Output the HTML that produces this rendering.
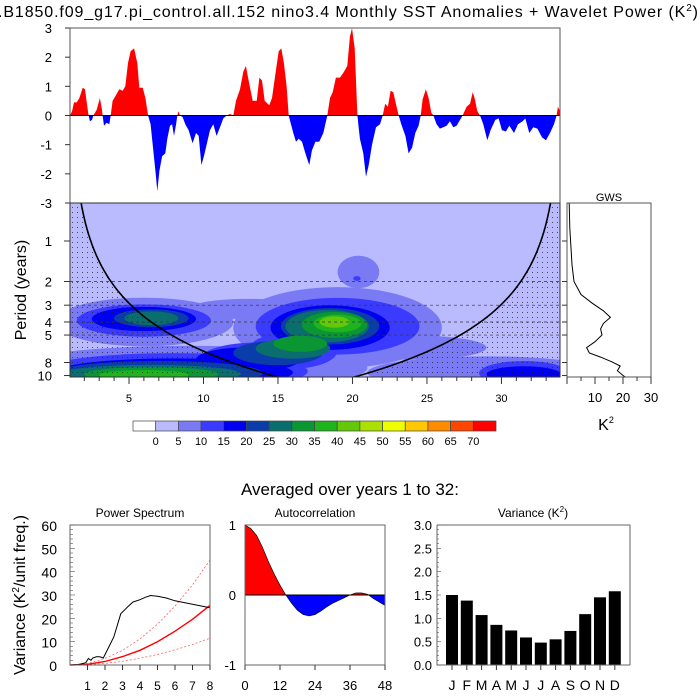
<!DOCTYPE html>
<html><head><meta charset="utf-8"><style>
html,body{margin:0;padding:0;background:#fff;}
svg{display:block;font-family:"Liberation Sans",sans-serif;}
</style></head><body>
<svg id="chart" width="700" height="700" viewBox="0 0 700 700">
<defs>
<pattern id="dots" width="5" height="5" patternUnits="userSpaceOnUse"><circle cx="2.5" cy="2.5" r="0.5" fill="#222"/></pattern>
<clipPath id="tsUp"><rect x="70" y="28" width="490" height="87.5"/></clipPath>
<clipPath id="tsDn"><rect x="70" y="115.5" width="490" height="87.5"/></clipPath>
<clipPath id="wvClip"><rect x="70" y="203" width="490" height="174"/></clipPath>
<clipPath id="acUp"><rect x="245" y="525" width="140" height="70"/></clipPath>
<clipPath id="acDn"><rect x="245" y="595" width="140" height="70"/></clipPath>
</defs>
<text x="698" y="17" text-anchor="end" font-size="16" textLength="700">.B1850.f09_g17.pi_control.all.152 nino3.4 Monthly SST Anomalies + Wavelet Power (K<tspan font-size="10" dy="-6">2</tspan><tspan dy="6">)</tspan></text>
<text transform="translate(26,290) rotate(-90)" text-anchor="middle" font-size="16">Period (years)</text>
<text x="350" y="495" text-anchor="middle" font-size="17">Averaged over years 1 to 32:</text>
<text transform="translate(25,595) rotate(-90)" text-anchor="middle" font-size="16">Variance (K<tspan font-size="10" dy="-6">2</tspan><tspan dy="6">/unit freq.)</tspan></text>
<text x="140" y="517" text-anchor="middle" font-size="12">Power Spectrum</text>
<text x="315" y="517" text-anchor="middle" font-size="12">Autocorrelation</text>
<text x="533" y="517" text-anchor="middle" font-size="12">Variance (K<tspan font-size="8" dy="-5">2</tspan><tspan dy="5">)</tspan></text>
<text x="609" y="201" text-anchor="middle" font-size="11">GWS</text>
<text x="606" y="430" text-anchor="middle" font-size="16">K<tspan font-size="9" dy="-7">2</tspan></text>
</svg>
<script>
// ---------- data ----------
const tsYears=[1.04,1.18,1.31,1.49,1.67,1.89,2.05,2.20,2.29,2.38,2.52,2.61,2.83,3.05,3.19,3.23,3.32,3.50,3.68,3.77,3.90,4.13,4.35,4.58,4.75,4.93,5.11,5.34,5.56,5.69,5.92,6.10,6.28,6.45,6.63,6.81,6.90,7.04,7.22,7.44,7.57,7.75,7.89,8.02,8.16,8.24,8.33,8.42,8.60,8.78,9.00,9.27,9.50,9.68,9.86,10.03,10.21,10.44,10.66,10.88,11.11,11.33,11.56,11.78,12.00,12.18,12.45,12.67,12.85,13.03,13.30,13.57,13.75,13.93,14.11,14.42,14.60,14.82,15.05,15.22,15.40,15.58,15.72,15.85,16.03,16.21,16.39,16.61,16.84,17.10,17.28,17.51,17.77,18.04,18.22,18.31,18.49,18.67,18.89,19.16,19.43,19.65,19.83,19.97,20.15,20.33,20.50,20.73,20.91,21.09,21.31,21.58,21.85,22.03,22.20,22.38,22.56,22.74,22.96,23.10,23.28,23.55,23.77,24.00,24.22,24.44,24.58,24.71,24.93,25.11,25.29,25.43,25.65,25.87,26.10,26.32,26.54,26.77,26.99,27.22,27.39,27.66,27.89,28.07,28.20,28.38,28.56,28.78,29.05,29.27,29.59,29.81,30.03,30.30,30.53,30.84,31.11,31.42,31.60,31.87,32.14,32.41,32.72,32.99,33.26,33.53,33.70,33.79,33.93];
const tsValues=[0,0.15,0.45,0.45,0.6,0.95,0.9,0.3,0,-0.2,-0.15,0,0.2,0.6,0.2,0,-0.35,-0.25,-0.3,0,0.5,0.7,0.9,0.85,1.0,1.8,2.2,2.3,1.8,0.95,0.95,0.6,0,-0.3,-1.2,-2.1,-2.6,-1.9,-1.4,-1.3,-0.8,-0.35,-0.3,-0.7,-0.3,0,0.15,0,-0.05,-0.3,-0.5,-0.95,-0.6,-0.7,-1.7,-1.4,-1.0,-0.5,-0.3,-0.7,-0.4,-0.1,0,0.05,0,0.5,0.9,1.5,1.7,1.2,0.5,0.5,1.3,1.2,0.5,0.35,0.6,1.4,2.2,2.3,1.8,1.0,0,-0.25,-0.6,-0.9,-0.8,-0.9,-1.3,-1.7,-1.2,-0.9,-0.9,-0.6,-0.2,0,0.6,0.8,1.3,1.3,1.5,1.7,2.7,3.0,2.3,0,-0.8,-1.3,-2.1,-1.7,-1.0,-0.4,-0.3,0,0.4,0.3,0.85,0.8,0.3,0,-0.3,-0.7,-1.3,-1.1,-0.6,-0.35,0,0.55,0.9,0.6,0.1,0,-0.3,-0.45,-0.4,-0.35,-0.2,-0.4,-0.35,-0.15,0,0.3,0.4,0.8,0.6,0.15,0,-0.3,-0.85,-0.5,-0.15,-0.1,-0.5,-0.55,-0.35,-0.6,-0.3,-0.2,-0.1,-0.6,-0.4,-0.45,-0.75,-0.85,-0.6,-0.3,0,0.3,0.15];
const tsTicks=[3,2,1,0,-1,-2];
const levelColors=["#ffffff","#babaff","#7a7af5","#3b3bff","#0000f0","#0a3caa","#0a6e6e","#0a9632","#1eb41e","#64c80a","#aae100","#eeff00","#ffc800","#ff8c00","#ff4600","#ff0000"];
const levelLabels=[0,5,10,15,20,25,30,35,40,45,50,55,60,65,70];
const blobYear=  [6,19,20.4,13,9,29,24, 12,19.5,25.3, 6,19,8,31.5,14,16, 6,18.5,8,31.5,13, 6.5,18.5,7,15, 6.5,18.3,6.5,16, 18.8,6.5,16.5, 19,6, 18.8, 20.3];
const blobPeriod=[4,4.4,1.7,3.2,8.8,9.5,6.2, 4.0,9.8,4.3, 3.9,4.3,9.3,9.6,7.2,6.5, 3.8,4.4,9.5,9.8,7.6, 3.75,4.3,9.6,6.8, 3.75,4.3,9.7,6.3, 4.2,9.8,5.8, 4.1,9.9, 4.0, 1.9];
const blobRxYears=[6,7,1.4,4,12,8,5, 1.8,1.8,1.2, 4.5,5.5,9,3,4,3, 3.5,4,8,2.5,3.5, 2.5,3.3,7,3, 1.8,2.8,6,2.5, 2.2,4.5,1.8, 1.6,3, 1.0, 0.25];
const blobRyOct=  [0.6,1.0,0.4,0.25,0.55,0.4,0.3, 0.13,0.12,0.35, 0.4,0.7,0.45,0.3,0.35,0.45, 0.3,0.55,0.35,0.2,0.3, 0.22,0.45,0.3,0.3, 0.17,0.4,0.22,0.25, 0.32,0.18,0.2, 0.22,0.12, 0.14, 0.06];
const blobLevel=  [2,2,2,2,2,2,2, 1,1,1, 3,3,3,3,3,3, 4,4,4,4,4, 5,5,5,5, 6,6,6,6, 7,7,7, 8,8, 9, 3];
const periodTicks=[1,2,3,4,5,8,10];
const dashPeriods=[2,3,4,5];
const yearTicks=[5,10,15,20,25,30];
const gwsPower= [0.8,1,1.8,2.5,5,9,13,15.5,13,12,12.5,10,7,8,12,16,19,18,20,21];
const gwsPeriod=[0.52,0.8,1.5,2.0,2.5,2.9,3.3,3.7,4.1,4.5,5.0,5.6,6.2,6.8,7.3,7.9,8.5,9.2,10.0,10.3];
const gwsTicks=[10,20,30];
const psX=[0,0.5,0.9,1.05,1.2,1.3,1.5,1.7,1.9,2.1,2.3,2.5,2.7,2.9,3.1,3.3,3.6,4,4.3,4.6,5,5.5,6,7,8];
const psY=[0,0.2,1,2.8,2,3,3.5,3.5,3,6,9,12,17,22,23.5,25,27,28,29,29.8,29.5,28.7,27.5,26,24.5];
const redX=[0,1,2,3,4,5,6,7,8];
const redMean=[0,0.3,1.5,3.6,6.3,10,14.5,19.6,25.6];
const redUpper=[0,0.7,2.8,6.3,11.2,17.5,25.2,34.3,45];
const redLower=[0,0.2,0.7,1.6,2.9,4.5,6.5,8.8,11.5];
const psYTicks=[0,10,20,30,40,50,60];
const psXTicks=[1,2,3,4,5,6,7,8];
const acLag=[0,2,4,6,8,10,12,14,16,18,20,22,24,26,28,30,32,34,36,38,40,42,44,46,48];
const acVal=[1,0.95,0.85,0.68,0.48,0.3,0.14,0,-0.12,-0.22,-0.28,-0.3,-0.28,-0.23,-0.17,-0.12,-0.08,-0.04,0,0.03,0.03,0.01,-0.05,-0.1,-0.15];
const acXTicks=[0,12,24,36,48];
const acYTicks=[1,0,-1];
const months=["J","F","M","A","M","J","J","A","S","O","N","D"];
const monthVar=[1.5,1.38,1.07,0.86,0.74,0.59,0.48,0.55,0.73,1.09,1.45,1.58];
const varTicks=[0,0.5,1,1.5,2,2.5,3];

// ---------- helpers ----------
const NS="http://www.w3.org/2000/svg";
const svg=document.getElementById("chart");
function mk(tag,attrs,parent){const e=document.createElementNS(NS,tag);for(const k in attrs)e.setAttribute(k,attrs[k]);(parent||svg).appendChild(e);return e;}
function txt(x,y,s,anchor,size,parent){const t=mk("text",{x:x,y:y,"text-anchor":anchor,"font-size":size},parent);t.textContent=s;return t;}
const tx=y=>70+(y-1.04)*(490/(33.93-1.04));
const ty=v=>115.5-v*29.17;
const py=p=>241+40.5*Math.log2(p);
const gx=v=>567+v*(84/30);
const psx=v=>70+v*(140/8), psy=v=>665-v*(140/60);
const acx=v=>245+v*(140/48), acy=v=>595-v*70;
const vx=i=>452+i*14.8, vy=v=>665-v*(140/3);

// ---------- time series ----------
let d="M"+tx(tsYears[0])+","+ty(0);
tsYears.forEach((y,i)=>{d+=" L"+tx(y).toFixed(1)+","+ty(tsValues[i]).toFixed(1);});
d+=" L"+tx(tsYears[tsYears.length-1])+","+ty(0)+" Z";
const tsPos=mk("path",{d:d,fill:"#ff0000","clip-path":"url(#tsUp)"});


const tsNeg=mk("path",{d:d,fill:"#0000ff","clip-path":"url(#tsDn)"});


const zl=mk("line",{x1:70,x2:560,y1:ty(0),y2:ty(0),stroke:"#000","stroke-width":1});


const tsFrame=mk("rect",{x:70,y:28,width:490,height:175,fill:"none",stroke:"#555","stroke-width":1});


tsTicks.concat([-3]).forEach(v=>{
  mk("line",{x1:65,x2:70,y1:ty(v),y2:ty(v),stroke:"#333"});
  const t=txt(52,ty(v)+5,String(v),"end",13);
  
  
});

// ---------- wavelet ----------
const wg=mk("g",{"clip-path":"url(#wvClip)"});


mk("rect",{x:70,y:203,width:490,height:174,fill:levelColors[1]},wg);
const order=blobLevel.map((l,i)=>i).sort((a,b)=>(blobLevel[a]===1?1.5:blobLevel[a])-(blobLevel[b]===1?1.5:blobLevel[b]));
order.forEach(i=>{
  const e=mk("ellipse",{cx:tx(blobYear[i]),cy:py(blobPeriod[i]),rx:blobRxYears[i]*14.9,ry:blobRyOct[i]*40.5,fill:levelColors[blobLevel[i]]},wg);
  
  
});
const coi=t=>Math.max(0.3,Math.min(0.739*(t-1.08),0.739*(34.0-t),12));
let cd="",first=true;
for(let t=1.04;t<=33.94;t+=0.05){cd+=(first?"M":" L")+tx(t).toFixed(1)+","+py(coi(t)).toFixed(1);first=false;}
const stip=mk("path",{d:cd+" L560,377 L560,420 L70,420 L70,377 Z",fill:"url(#dots)"},wg);


dashPeriods.forEach(p=>{
  const l=mk("line",{x1:70,x2:560,y1:py(p),y2:py(p),stroke:"#333","stroke-width":0.7,"stroke-dasharray":"3,3"},wg);
  
  
});
const coiLine=mk("path",{d:cd,fill:"none",stroke:"#000","stroke-width":1.6},wg);


const wvFrame=mk("rect",{x:70,y:203,width:490,height:174,fill:"none",stroke:"#333","stroke-width":1});


periodTicks.forEach(p=>{
  mk("line",{x1:64,x2:70,y1:py(p),y2:py(p),stroke:"#333"});
  const t=txt(52,py(p)+5,String(p),"end",13);
  
  
});
for(let y=2;y<=33;y++){mk("line",{x1:tx(y),x2:tx(y),y1:377,y2:yearTicks.indexOf(y)>=0?384:381,stroke:"#333"});}
yearTicks.forEach(y=>{
  const t=txt(tx(y),402,String(y),"middle",11);
  
  
});

// ---------- GWS ----------
let gd="";
gwsPower.forEach((v,i)=>{gd+=(i?" L":"M")+gx(v).toFixed(1)+","+py(gwsPeriod[i]).toFixed(1);});
const gl=mk("path",{d:gd,fill:"none",stroke:"#000","stroke-width":1});


const gf=mk("rect",{x:567,y:203,width:84,height:174,fill:"none",stroke:"#555","stroke-width":1});


periodTicks.forEach(p=>{mk("line",{x1:562,x2:567,y1:py(p),y2:py(p),stroke:"#333"});});
for(let v=0;v<=30;v+=5){mk("line",{x1:gx(v),x2:gx(v),y1:377,y2:v%10?381:384,stroke:"#333"});}
gwsTicks.forEach(v=>{
  const t=txt(gx(v),402,String(v),"middle",13);
  
  
});

// ---------- colorbar ----------
const bw=363/16;
levelColors.forEach((c,i)=>{
  const r=mk("rect",{x:133+i*bw,y:421,width:bw,height:10,fill:c,stroke:"#444","stroke-width":0.7});
  
  
});
levelLabels.forEach((v,i)=>{
  const t=txt(133+(i+1)*bw,445,String(v),"middle",11);
  
  
});

// ---------- power spectrum ----------
function line(xs,ys,fx,fy){return xs.map((x,i)=>(i?"L":"M")+fx(x).toFixed(1)+","+fy(ys[i]).toFixed(1)).join(" ");}
const rU=mk("path",{d:line(redX,redUpper,psx,psy),fill:"none",stroke:"#ff6060","stroke-width":0.8,"stroke-dasharray":"2,2"});


const rL=mk("path",{d:line(redX,redLower,psx,psy),fill:"none",stroke:"#ff6060","stroke-width":0.8,"stroke-dasharray":"2,2"});


const rM=mk("path",{d:line(redX,redMean,psx,psy),fill:"none",stroke:"#ff0000","stroke-width":1.4});


const ps=mk("path",{d:line(psX,psY,psx,psy),fill:"none",stroke:"#000","stroke-width":1});


const psF=mk("rect",{x:70,y:525,width:140,height:140,fill:"none",stroke:"#666","stroke-width":1});


for(let v=0;v<=60;v+=2){mk("line",{x1:70,x2:v%10?73:75,y1:psy(v),y2:psy(v),stroke:"#555","stroke-width":0.6});}
psYTicks.forEach(v=>{
  const t=txt(57,psy(v)+6,String(v),"end",14);
  
  
});
psXTicks.forEach(v=>{
  mk("line",{x1:psx(v),x2:psx(v),y1:665,y2:670,stroke:"#333"});
  const t=txt(psx(v),690,String(v),"middle",12);
  
  
});

// ---------- autocorrelation ----------
const ad=line(acLag,acVal,acx,acy)+" L"+acx(48)+","+acy(0)+" L"+acx(0)+","+acy(0)+" Z";
const aU=mk("path",{d:ad,fill:"#ff0000","clip-path":"url(#acUp)"});


const aD=mk("path",{d:ad,fill:"#0000ff","clip-path":"url(#acDn)"});


const aL=mk("path",{d:line(acLag,acVal,acx,acy),fill:"none",stroke:"#000","stroke-width":0.6});


mk("line",{x1:245,x2:385,y1:acy(0),y2:acy(0),stroke:"#000","stroke-width":1});
const aF=mk("rect",{x:245,y:525,width:140,height:140,fill:"none",stroke:"#666","stroke-width":1});


acYTicks.forEach(v=>{
  const t=txt(236,acy(v)+5,String(v),"end",13);
  
  
});
acXTicks.forEach(v=>{
  mk("line",{x1:acx(v),x2:acx(v),y1:665,y2:670,stroke:"#333"});
  const t=txt(acx(v),690,String(v),"middle",13);
  
  
});

// ---------- monthly variance ----------
monthVar.forEach((v,i)=>{
  const b=mk("rect",{x:vx(i)-6,y:vy(v),width:12,height:665-vy(v),fill:"#000"});
  
  
  mk("line",{x1:vx(i),x2:vx(i),y1:665,y2:670,stroke:"#333"});
  const t=txt(vx(i),690,months[i],"middle",14);
  
  
});
const vF=mk("path",{d:"M437,525 L630,525 L630,665 M437,525 L437,665 L630,665",fill:"none",stroke:"#666","stroke-width":1});


for(let v=0;v<=3.001;v+=0.1){mk("line",{x1:437,x2:Math.round(v*10)%5?439:441,y1:vy(v),y2:vy(v),stroke:"#555","stroke-width":0.6});}
varTicks.forEach(v=>{
  const t=txt(432,vy(v)+5,v.toFixed(1),"end",13);
  
  
});
</script>
</body></html>
